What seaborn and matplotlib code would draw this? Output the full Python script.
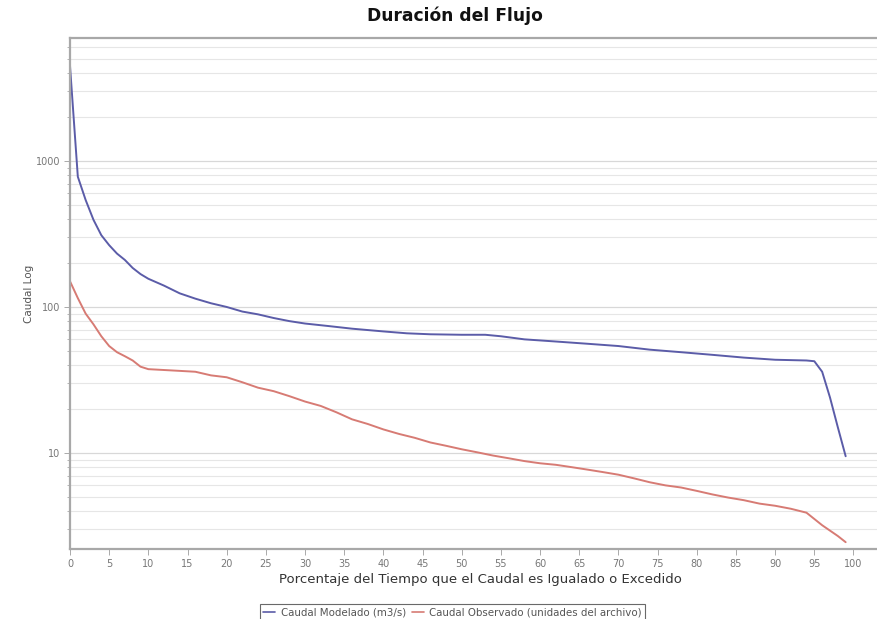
import matplotlib
matplotlib.use("Agg")
import matplotlib.pyplot as plt
import seaborn as sns
import pandas as pd
from matplotlib.ticker import LogLocator, FixedLocator, FixedFormatter, NullFormatter

# Flow duration curve: percent of time a flow is equalled or exceeded
pct_modelado = [0, 1, 2, 3, 4, 5, 6, 7, 8, 9, 10, 12, 14, 16, 18, 20, 22, 24, 26, 28,
                30, 33, 36, 40, 43, 46, 50, 53, 55, 58, 62, 66, 70, 74, 78, 82, 86,
                90, 94, 95, 96, 97, 98, 99]
caudal_modelado = [4500, 780, 540, 395, 310, 265, 232, 210, 185, 168, 156, 140, 124,
                   114, 106, 100, 93, 89, 84, 80, 77, 74, 71, 68, 66, 65, 64.5, 64.5,
                   63, 60, 58, 56, 54, 51, 49, 47, 45, 43.5, 43, 42.5, 36, 24, 15, 9.5]

pct_observado = [0, 1, 2, 3, 4, 5, 6, 7, 8, 9, 10, 12, 14, 16, 18, 20, 22, 24, 26, 28,
                 30, 32, 34, 36, 38, 40, 42, 44, 46, 48, 50, 52, 54, 56, 58, 60, 62,
                 64, 66, 68, 70, 72, 74, 76, 78, 80, 82, 84, 86, 88, 90, 92, 94, 96,
                 98, 99]
caudal_observado = [150, 115, 90, 76, 63, 54, 49, 46, 43, 39, 37.5, 37, 36.5, 36, 34,
                    33, 30.5, 28, 26.5, 24.5, 22.5, 21, 19, 17, 15.8, 14.5, 13.5, 12.7,
                    11.8, 11.2, 10.6, 10.1, 9.6, 9.2, 8.8, 8.5, 8.3, 8.0, 7.7, 7.4, 7.1,
                    6.7, 6.3, 6.0, 5.8, 5.5, 5.2, 4.95, 4.75, 4.5, 4.35, 4.15, 3.9, 3.2,
                    2.7, 2.45]

serie_modelado = "Caudal Modelado (m3/s)"
serie_observado = "Caudal Observado (unidades del archivo)"

x_ticks = list(range(0, 101, 5))
y_ticks = [10, 100, 1000]
y_tick_labels = ["10", "100", "1000"]

df = pd.concat([
    pd.DataFrame({"pct": pct_modelado, "caudal": caudal_modelado, "serie": serie_modelado}),
    pd.DataFrame({"pct": pct_observado, "caudal": caudal_observado, "serie": serie_observado}),
], ignore_index=True)

sns.set_theme(style="white")
plt.rcParams["font.family"] = ["DejaVu Sans"]

fig = plt.figure(figsize=(8.77, 6.19), dpi=100)
ax = fig.add_axes([0.0798, 0.1131, 0.9202, 0.8255])

palette = {serie_modelado: "#5b5ca8", serie_observado: "#d77b74"}
sns.lineplot(data=df, x="pct", y="caudal", hue="serie", palette=palette,
             linewidth=1.4, ax=ax, legend=False, sort=False)

ax.set_yscale("log")
ax.set_ylim(2.2, 6950)
ax.set_xlim(0, 103)

# horizontal grid at every log decade subdivision
ax.yaxis.set_major_locator(FixedLocator(y_ticks))
ax.yaxis.set_major_formatter(FixedFormatter(y_tick_labels))
ax.yaxis.set_minor_locator(LogLocator(base=10, subs=range(2, 10), numticks=20))
ax.yaxis.set_minor_formatter(NullFormatter())
ax.grid(False)
ax.grid(True, axis="y", which="major", color="#d8d8d8", linewidth=0.9)
ax.grid(True, axis="y", which="minor", color="#e6e6e6", linewidth=0.8)

ax.set_xticks(x_ticks)
ax.set_xticklabels([str(t) for t in x_ticks])

ax.tick_params(axis="both", which="major", direction="out", length=4, width=0.7,
               color="#aaaaaa", labelsize=7, labelcolor="#777777", pad=3)
ax.tick_params(axis="y", which="minor", direction="out", length=2.5, width=0.6,
               color="#aaaaaa", left=True)
ax.tick_params(axis="x", which="major", bottom=True)
ax.tick_params(axis="y", which="major", left=True)

for side in ["left", "bottom", "top"]:
    ax.spines[side].set_visible(True)
    ax.spines[side].set_color("#a8a8a8")
    ax.spines[side].set_linewidth(1.6)
ax.spines["right"].set_visible(False)

ax.set_xlabel("Porcentaje del Tiempo que el Caudal es Igualado o Excedido",
              fontsize=9.5, color="#333333", fontweight="medium", labelpad=4)
ax.xaxis.set_label_coords(0.5085, -0.047)
ax.set_ylabel("Caudal Log", fontsize=7.5, color="#555555", labelpad=1)

fig.suptitle("Duración del Flujo", x=0.519, y=0.99, fontsize=12.3,
             fontweight="bold", color="#111111")

handles = [plt.Line2D([], [], color=palette[serie_modelado], linewidth=1.2),
           plt.Line2D([], [], color=palette[serie_observado], linewidth=1.2)]
leg = fig.legend(handles, [serie_modelado, serie_observado], loc="lower center",
                 bbox_to_anchor=(0.516, -0.006), ncol=2, fontsize=7.4,
                 frameon=True, fancybox=False, handlelength=1.2, handletextpad=0.5,
                 columnspacing=0.6, borderpad=0.3, borderaxespad=0.2)
leg.get_frame().set_edgecolor("#444444")
leg.get_frame().set_linewidth(0.8)
for t in leg.get_texts():
    t.set_color("#555555")

fig.savefig("out.png", dpi=100)
